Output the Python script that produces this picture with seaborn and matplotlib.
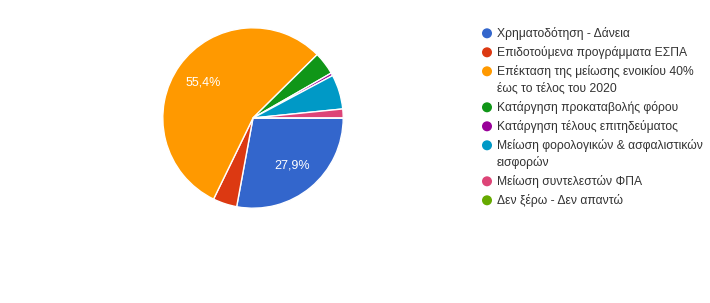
import textwrap
import matplotlib
matplotlib.use("Agg")
import matplotlib.pyplot as plt
import seaborn as sns

# ---- data ----
categories = [
    "Χρηματοδότηση - Δάνεια",
    "Επιδοτούμενα προγράμματα ΕΣΠΑ",
    "Επέκταση της μείωσης ενοικίου 40% έως το τέλος του 2020",
    "Κατάργηση προκαταβολής φόρου",
    "Κατάργηση τέλους επιτηδεύματος",
    "Μείωση φορολογικών & ασφαλιστικών εισφορών",
    "Μείωση συντελεστών ΦΠΑ",
    "Δεν ξέρω - Δεν απαντώ",
]
shares = [27.9, 4.3, 55.4, 4.1, 0.5, 6.2, 1.6, 0.0]
colors = ["#3366CC", "#DC3912", "#FF9900", "#109618",
          "#990099", "#0099C6", "#DD4477", "#66AA00"]

sns.set_theme(style="white")
plt.rcParams["font.family"] = ["Liberation Sans", "DejaVu Sans"]
palette = sns.color_palette(colors)

W, H = 710, 303
fig = plt.figure(figsize=(W / 100, H / 100), dpi=100)
fig.patch.set_facecolor("white")

# pie axes: centre (253,118) px, radius 92 px
cx, cy, r = 253, 118, 92
ax = fig.add_axes([(cx - r) / W, (H - cy - r) / H, 2 * r / W, 2 * r / H])


def fmt(p):
    return (f"{p:.1f}".replace(".", ",") + "%") if p > 10 else ""


wedges, texts, autotexts = ax.pie(
    shares, colors=palette, startangle=0, counterclock=False,
    autopct=fmt, pctdistance=0.68,
    wedgeprops=dict(edgecolor="white", linewidth=1.0),
    textprops=dict(color="white", fontsize=9),
)
ax.set_xlim(-1.02, 1.02)
ax.set_ylim(-1.02, 1.02)
ax.set_aspect("equal")
ax.axis("off")

# legend drawn in pixel coordinates
lax = fig.add_axes([0, 0, 1, 1])
lax.set_xlim(0, W)
lax.set_ylim(H, 0)
lax.axis("off")
lax.patch.set_alpha(0)

y = 33.3
for lab, col in zip(categories, palette):
    lines = textwrap.wrap(lab, width=34)
    lax.scatter([487], [y], s=52, color=col, edgecolors="none")
    for i, ln in enumerate(lines):
        lax.text(497, y + i * 17, ln, fontsize=8.75, color="#333333",
                 va="center", ha="left")
    y += 19 + 17 * (len(lines) - 1)

fig.savefig("out.png", dpi=100, facecolor="white")
